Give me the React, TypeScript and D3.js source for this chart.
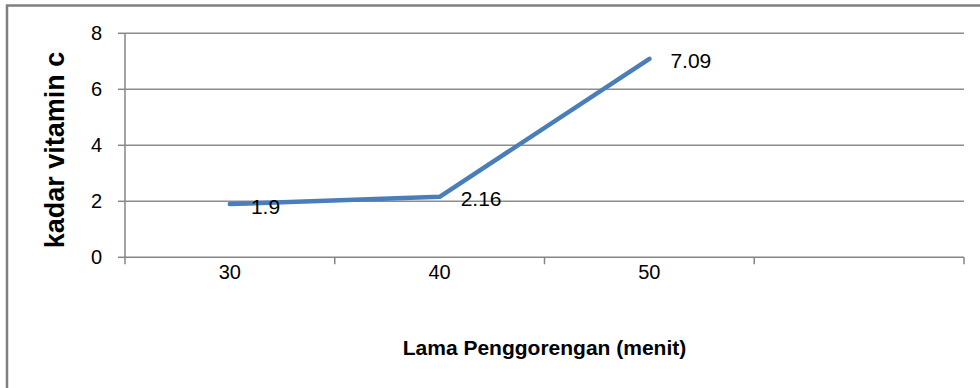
import React from "react";
import * as d3 from "d3";

const categories = ["30", "40", "50", ""];
const values = [1.9, 2.16, 7.09];
const yTicks = [0, 2, 4, 6, 8];
const xTitle = "Lama Penggorengan (menit)";
const yTitle = "kadar vitamin c";

const W = 980;
const H = 388;
const plot = { left: 125, right: 964, top: 33.3, bottom: 257.3 };
const FONT = "'Liberation Sans', Arial, sans-serif";

export default function App() {
  const x = d3
    .scaleBand<string>()
    .domain(categories.map((c, i) => String(i)))
    .range([plot.left, plot.right])
    .paddingInner(0)
    .paddingOuter(0);
  const y = d3.scaleLinear().domain([0, 8]).range([plot.bottom, plot.top]);
  const cx = (i: number) => (x(String(i)) as number) + x.bandwidth() / 2;

  const line = d3
    .line<number>()
    .x((_, i) => cx(i))
    .y((d) => y(d));

  const tickEdges = categories.map((_, i) => x(String(i)) as number).concat([plot.right]);

  return (
    <svg
      width={W}
      height={H}
      style={{ position: "absolute", left: 0, top: 0, display: "block", background: "#fff" }}
    >
      <rect x={7} y={5.5} width={1000} height={400} fill="#fff" stroke="#808080" strokeWidth={2.5} />
      {yTicks.map((t) => (
        <g key={t}>
          {t !== 0 && (
            <line x1={plot.left} x2={plot.right} y1={y(t)} y2={y(t)} stroke="#8c8c8c" strokeWidth={1.5} />
          )}
          <line x1={plot.left - 7} x2={plot.left} y1={y(t)} y2={y(t)} stroke="#868686" strokeWidth={1.5} />
          <text
            x={102}
            y={y(t)}
            textAnchor="end"
            dominantBaseline="central"
            fontFamily={FONT}
            fontSize={20}
            fill="#000"
          >
            {t}
          </text>
        </g>
      ))}
      <line x1={plot.left} x2={plot.left} y1={plot.top} y2={plot.bottom} stroke="#868686" strokeWidth={1.5} />
      <line x1={plot.left} x2={plot.right} y1={plot.bottom} y2={plot.bottom} stroke="#868686" strokeWidth={1.5} />
      {tickEdges.map((e, i) => (
        <line key={i} x1={e} x2={e} y1={plot.bottom} y2={plot.bottom + 7} stroke="#868686" strokeWidth={1.5} />
      ))}
      {categories.map((c, i) => (
        <text
          key={i}
          x={cx(i)}
          y={272}
          textAnchor="middle"
          dominantBaseline="central"
          fontFamily={FONT}
          fontSize={20}
          fill="#000"
        >
          {c}
        </text>
      ))}
      <path
        d={line(values) || ""}
        fill="none"
        stroke="#4a7ebb"
        strokeWidth={4.5}
        strokeLinejoin="round"
        strokeLinecap="round"
      />
      {values.map((v, i) => (
        <text
          key={i}
          x={cx(i) + 21}
          y={y(v) + 2}
          dominantBaseline="central"
          fontFamily={FONT}
          fontSize={21}
          fill="#000"
        >
          {String(v)}
        </text>
      ))}
      <text
        x={(plot.left + plot.right) / 2}
        y={347}
        textAnchor="middle"
        dominantBaseline="central"
        fontFamily={FONT}
        fontWeight="bold"
        fontSize={21}
        fill="#000"
      >
        {xTitle}
      </text>
      <text
        transform={`translate(55,150) rotate(-90)`}
        textAnchor="middle"
        dominantBaseline="central"
        fontFamily={FONT}
        fontWeight="bold"
        fontSize={27}
        fill="#000"
      >
        {yTitle}
      </text>
    </svg>
  );
}
